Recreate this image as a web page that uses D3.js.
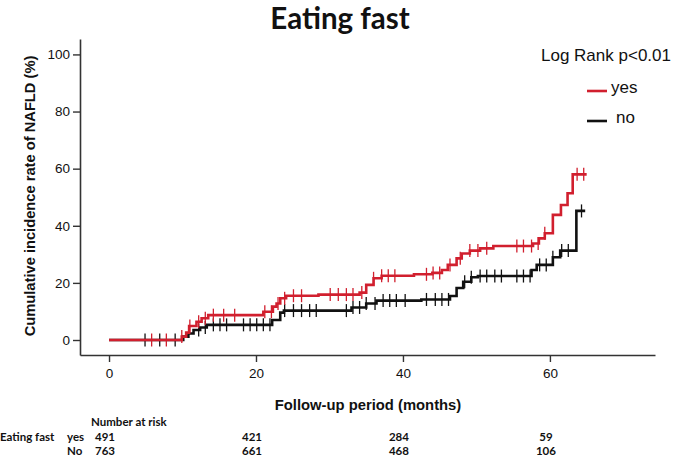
<!DOCTYPE html>
<html><head><meta charset="utf-8">
<script src="https://cdn.jsdelivr.net/npm/d3@7"></script>
<style>
html,body{margin:0;padding:0;background:#fff;}
svg{display:block;}
</style></head>
<body>
<script>
// ---- data ----
const title = "Eating fast";
const seriesNames = ["yes", "no"];
// step curves: [time (months), cumulative incidence (%) after step]
const yesSteps = [[0,0],[9.9,1.2],[10.5,2.6],[10.9,4.9],[11.9,6.4],[12.6,7.6],[13.5,8.7],
  [21.0,9.9],[22.3,11.7],[22.8,12.8],[23.3,14.6],[24.1,15.5],[28.5,15.9],[34.1,16.6],[35.0,19.3],
  [36.0,21.6],[37.1,22.5],[41.5,23.0],[44.0,23.5],[45.3,24.5],[46.1,26.3],[47.3,28.6],[48.0,30.3],
  [49.1,31.3],[50.5,32.1],[52.3,32.9],[57.7,33.8],[58.5,35.6],[59.3,37.4],[60.4,43.8],[61.5,47.3],
  [62.4,51.4],[63.1,58.0]];
const yesEnd = 65.0;
const yesCensor = [5.8,7.8,9.9,11.0,12.2,13.1,14.2,15.6,17.1,21.2,22.1,23.0,23.9,25.1,26.2,30.1,31.2,
  32.3,33.2,34.4,36.0,37.1,38.0,38.9,43.2,44.1,45.0,46.4,47.8,49.1,50.2,51.4,55.5,56.4,57.5,58.4,59.3,
  63.7,64.6];
const noSteps = [[0,0],[10.1,1.2],[10.8,2.3],[11.5,3.5],[12.4,4.4],[13.3,5.3],[22.2,7.0],[23.3,9.6],
  [23.8,10.3],[33.0,11.4],[35.0,12.8],[36.4,13.8],[42.5,14.2],[46.4,15.4],[47.3,18.2],[48.2,20.4],
  [49.3,22.0],[50.2,22.4],[57.5,24.5],[58.2,26.3],[60.4,29.0],[61.4,31.3],[63.6,45.2]];
const noEnd = 64.8;
const noCensor = [4.9,6.9,9.0,12.2,13.1,14.2,15.1,16.0,18.3,19.2,20.1,21.0,21.9,23.9,25.1,26.2,27.3,28.2,
  32.3,33.2,34.1,35.0,36.2,37.3,38.2,39.1,40.3,43.2,44.4,45.3,46.2,48.4,49.3,50.5,51.4,52.5,53.4,55.5,
  56.4,57.3,58.6,59.5,60.4,61.6,62.5,64.3];
const xTicks = [0,20,40,60];
const yTicks = [0,20,40,60,80,100];
const riskTimes = [0,20,40,60];
const riskYes = [491,421,284,59];
const riskNo = [763,661,468,106];
const xLabel = "Follow-up period (months)";
const yLabel = "Cumulative incidence rate of NAFLD (%)";
const legendTitle = "Log Rank p<0.01";

// ---- drawing ----
const W = 679, H = 456;
const RED = "#d11f2e", BLACK = "#111";
const svg = d3.select("body").append("svg").attr("width", W).attr("height", H);

const x = d3.scaleLinear().domain([-3.95, 74.3]).range([80, 655]);
const y = d3.scaleLinear().domain([-5.25, 105.4]).range([355, 39]);

svg.append("text").attr("x", 340).attr("y", 29).attr("text-anchor", "middle")
  .attr("font-family", "Lato, 'Open Sans', sans-serif").attr("font-weight", 700)
  .attr("font-size", 29.5).attr("fill", "#111").text(title);

const axisFont = "'Liberation Sans', Arial, sans-serif";
const gy = svg.append("g").attr("transform", "translate(80,0)")
  .call(d3.axisLeft(y).tickValues(yTicks).tickSize(7).tickSizeOuter(0).tickPadding(3));
const gx = svg.append("g").attr("transform", "translate(0,355)")
  .call(d3.axisBottom(x).tickValues(xTicks).tickSize(7).tickSizeOuter(0).tickPadding(6));
[gy, gx].forEach(g => {
  g.select(".domain").attr("stroke", "#333").attr("stroke-width", 1.6);
  g.selectAll(".tick line").attr("stroke", "#333").attr("stroke-width", 1.4);
  g.selectAll(".tick text").attr("font-family", axisFont).attr("font-size", 13.5).attr("fill", "#111");
});

svg.append("text").attr("transform", `translate(35,196) rotate(-90)`).attr("text-anchor", "middle")
  .attr("font-family", axisFont).attr("font-weight", 700).attr("font-size", 14.7).attr("fill", "#111")
  .text(yLabel);
svg.append("text").attr("x", 368).attr("y", 410).attr("text-anchor", "middle")
  .attr("font-family", axisFont).attr("font-weight", 700).attr("font-size", 14.8).attr("fill", "#111")
  .text(xLabel);

function stepVal(steps, t) {
  let v = 0;
  for (const s of steps) { if (s[0] <= t) v = s[1]; }
  return v;
}
function drawCurve(steps, end, censor, color) {
  const pts = steps.concat([[end, steps[steps.length - 1][1]]]);
  const line = d3.line().x(d => x(d[0])).y(d => y(d[1])).curve(d3.curveStepAfter);
  svg.append("path").datum(pts).attr("d", line).attr("fill", "none")
    .attr("stroke", color).attr("stroke-width", 2.6).attr("stroke-linejoin", "miter");
  svg.append("g").selectAll("line").data(censor).join("line")
    .attr("x1", d => x(d)).attr("x2", d => x(d))
    .attr("y1", d => y(stepVal(steps, d)) - 6.5).attr("y2", d => y(stepVal(steps, d)) + 6.5)
    .attr("stroke", color).attr("stroke-width", 1.3);
}
drawCurve(noSteps, noEnd, noCensor, BLACK);
drawCurve(yesSteps, yesEnd, yesCensor, RED);

// legend
const legFont = "'Liberation Sans', Arial, sans-serif";
svg.append("text").attr("x", 541).attr("y", 61).attr("font-family", legFont).attr("font-size", 17)
  .attr("fill", "#111").text(legendTitle);
const legColors = [RED, BLACK];
seriesNames.forEach((n, i) => {
  const ly = 91 + i * 30;
  svg.append("line").attr("x1", 587).attr("x2", 607).attr("y1", ly).attr("y2", ly)
    .attr("stroke", legColors[i]).attr("stroke-width", 2.6);
  svg.append("text").attr("x", i === 0 ? 611 : 616).attr("y", ly + 2).attr("font-family", legFont)
    .attr("font-size", 17).attr("fill", "#111").text(n);
});

// number at risk
const tabFont = "Lato, 'Open Sans', sans-serif";
const tab = svg.append("g").attr("font-family", tabFont).attr("font-weight", 700)
  .attr("font-size", 11.5).attr("fill", "#111");
tab.append("text").attr("x", 91).attr("y", 426).text("Number at risk");
tab.append("text").attr("x", 0).attr("y", 441).text("Eating fast");
tab.append("text").attr("x", 67).attr("y", 441).text("yes");
tab.append("text").attr("x", 67).attr("y", 455).text("No");
riskTimes.forEach((t, i) => {
  tab.append("text").attr("x", x(t) - 4).attr("y", 441).attr("text-anchor", "middle").text(riskYes[i]);
  tab.append("text").attr("x", x(t) - 4).attr("y", 455).attr("text-anchor", "middle").text(riskNo[i]);
});
</script>
</body></html>
